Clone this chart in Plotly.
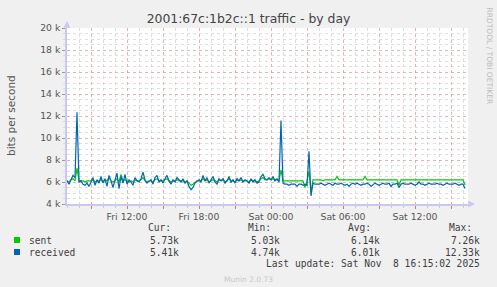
import pandas as pd
import plotly.graph_objects as go

# ---------------- data (k bits per second, 10-minute samples from Fri 07:00) ----------------
start_time = "2025-11-07 07:00"
sample_freq = "10min"

received = [
    6.1, 5.8, 6.2, 6.6, 6.4, 12.33,   # Fri 07
    6.0, 6.1, 5.8, 5.7, 5.9, 5.6,     # 08
    6.0, 6.4, 5.7, 6.2, 5.9, 6.5,     # 09
    5.9, 6.3, 5.6, 6.6, 6.1, 5.5,     # 10
    6.2, 6.8, 5.4, 6.5, 5.9, 6.7,     # 11
    5.8, 6.2, 6.0, 5.7, 6.4, 6.1,     # 12
    6.0, 6.3, 6.9, 6.2, 5.9, 6.1,     # 13
    6.2, 5.8, 6.4, 6.6, 6.0, 6.2,     # 14
    5.9, 6.3, 6.6, 6.1, 5.8, 6.2,     # 15
    6.0, 6.4, 6.2, 6.0, 6.3, 5.9,     # 16
    6.1, 5.6, 5.3, 5.5, 5.9, 6.1,     # 17
    6.2, 6.0, 6.6, 6.1, 6.4, 5.9,     # 18
    6.2, 6.5, 6.0, 5.8, 6.3, 6.1,     # 19
    6.3, 5.9, 6.1, 6.5, 6.0, 6.2,     # 20
    5.9, 6.3, 6.1, 6.4, 6.0, 6.2,     # 21
    6.1, 5.9, 6.3, 6.0, 6.2, 5.9,     # 22
    6.0, 6.5, 6.7, 6.3, 6.2, 6.4,     # 23
    6.2, 6.5, 6.1, 6.3, 6.0, 11.6,    # Sat 00
    5.9, 5.8, 5.8, 5.7, 5.8, 5.8,     # 01
    5.8, 5.6, 5.8, 5.8, 5.7, 5.8,     # 02
    5.7, 8.8, 4.74, 5.9, 5.8, 5.8,    # 03
    5.8, 5.9, 5.8, 5.7, 5.8, 5.9,     # 04
    5.8, 5.7, 5.9, 5.8, 5.8, 5.9,     # 05
    5.8, 5.7, 5.8, 5.6, 5.8, 5.9,     # 06
    5.8, 5.9, 5.8, 5.7, 5.8, 5.8,     # 07
    5.9, 5.8, 5.6, 5.8, 5.9, 5.8,     # 08
    5.7, 5.8, 5.9, 5.8, 5.8, 5.9,     # 09
    5.6, 5.8, 5.8, 5.9, 5.5, 5.8,     # 10
    5.9, 5.8, 5.8, 5.8, 5.9, 5.8,     # 11
    5.7, 5.8, 6.0, 5.8, 5.8, 5.7,     # 12
    5.8, 5.9, 5.8, 5.8, 5.8, 5.9,     # 13
    5.8, 5.8, 5.7, 5.8, 5.9, 5.8,     # 14
    5.8, 5.8, 5.9, 5.8, 5.7, 5.8,     # 15
    5.8, 5.41,                        # 16
]

sent = [
    6.1, 6.0, 6.2, 6.3, 6.1, 7.26,    # Fri 07
    6.1, 6.1, 6.1, 6.0, 6.1, 6.1,     # 08
    6.1, 6.2, 6.0, 6.1, 6.1, 6.2,     # 09
    6.0, 6.2, 6.1, 6.4, 6.1, 6.0,     # 10
    6.1, 6.3, 6.0, 6.7, 6.1, 6.2,     # 11
    6.1, 6.0, 6.1, 6.0, 6.2, 6.1,     # 12
    6.1, 6.2, 6.4, 6.1, 6.0, 6.1,     # 13
    6.1, 6.0, 6.2, 6.3, 6.1, 6.1,     # 14
    6.1, 6.2, 6.3, 6.1, 6.0, 6.1,     # 15
    6.1, 6.2, 6.1, 6.1, 6.1, 6.0,     # 16
    6.1, 5.9, 5.7, 5.8, 6.0, 6.1,     # 17
    6.1, 6.1, 6.3, 6.1, 6.2, 6.0,     # 18
    6.1, 6.2, 6.1, 6.0, 6.2, 6.1,     # 19
    6.2, 6.0, 6.1, 6.3, 6.1, 6.1,     # 20
    6.0, 6.2, 6.1, 6.2, 6.1, 6.1,     # 21
    6.1, 6.0, 6.2, 6.1, 6.1, 6.0,     # 22
    6.1, 6.3, 6.4, 6.2, 6.2, 6.3,     # 23
    6.2, 6.3, 6.2, 6.2, 6.1, 7.1,     # Sat 00
    6.1, 6.1, 6.1, 6.1, 6.1, 6.1,     # 01
    6.1, 6.1, 6.1, 6.1, 6.1, 5.5,     # 02
    6.1, 7.0, 5.03, 6.2, 6.2, 6.2,    # 03
    6.2, 6.2, 6.1, 6.2, 6.2, 6.2,     # 04
    6.2, 6.2, 6.2, 6.5, 6.2, 6.2,     # 05
    6.2, 6.2, 6.2, 6.2, 6.2, 6.2,     # 06
    6.2, 6.2, 6.2, 6.2, 6.2, 6.5,     # 07
    6.2, 6.2, 6.2, 6.2, 6.2, 6.2,     # 08
    6.2, 6.2, 6.2, 6.2, 6.2, 6.2,     # 09
    6.2, 6.2, 6.2, 6.2, 5.7, 6.2,     # 10
    6.2, 6.2, 6.2, 6.2, 6.2, 6.2,     # 11
    6.2, 6.2, 6.25, 6.2, 6.2, 6.2,    # 12
    6.2, 6.2, 6.2, 6.2, 6.2, 6.2,     # 13
    6.2, 6.2, 6.2, 6.2, 6.2, 6.2,     # 14
    6.2, 6.2, 6.2, 6.2, 6.2, 6.2,     # 15
    6.2, 5.73,                        # 16
]

series_names = ["sent", "received"]
series_colors = ["#00CC00", "#0066B3"]

stat_headers = ["Cur:", "Min:", "Avg:", "Max:"]
stats_sent = ["5.73k", "5.03k", "6.14k", "7.26k"]
stats_received = ["5.41k", "4.74k", "6.01k", "12.33k"]

y_tickvals = [4000, 6000, 8000, 10000, 12000, 14000, 16000, 18000, 20000]
y_ticktext = ["4 k", "6 k", "8 k", "10 k", "12 k", "14 k", "16 k", "18 k", "20 k"]

x_tickvals = ["2025-11-07 09:00", "2025-11-07 12:00", "2025-11-07 15:00", "2025-11-07 18:00",
              "2025-11-07 21:00", "2025-11-08 00:00", "2025-11-08 03:00", "2025-11-08 06:00",
              "2025-11-08 09:00", "2025-11-08 12:00", "2025-11-08 15:00"]
x_ticktext = ["", "Fri 12:00", "", "Fri 18:00", "", "Sat 00:00", "", "Sat 06:00", "", "Sat 12:00", ""]
x_range = ["2025-11-07 07:00", "2025-11-08 16:25"]

title_text = "2001:67c:1b2c::1 traffic - by day"
y_title = "bits per second"
last_update = "Last update: Sat Nov\u00a0\u00a08 16:15:02 2025"
footer = "Munin 2.0.73"
side_text = "RRDTOOL / TOBI OETIKER"

# ---------------- figure ----------------
times = pd.date_range(start_time, periods=len(received), freq=sample_freq)

W, H = 497, 287
L, R, T, B = 67, 468, 28, 204


def px(x):
    return (x - L) / (R - L)


def py(y):
    return (B - y) / (B - T)


fig = go.Figure()
for name, vals, col in zip(series_names, [sent, received], series_colors):
    fig.add_trace(go.Scatter(
        x=times, y=[v * 1000 for v in vals], name=name, mode="lines",
        line=dict(color=col, width=1.2), showlegend=False,
    ))

major_grid = "rgba(235,150,150,0.6)"
minor_grid = "rgba(190,190,190,0.5)"
axis_col = "#C8C8F0"
tick_font = dict(family="DejaVu Sans", size=9.3, color="#555555")
mono = dict(family="DejaVu Sans Mono", size=9.6, color="#404040")

fig.update_layout(
    width=W, height=H,
    margin=dict(l=L, r=W - R, t=T, b=H - B, pad=0),
    paper_bgcolor="#F0F0F0", plot_bgcolor="#FFFFFF",
    title=dict(text=title_text, x=0.5, xanchor="center", y=1 - 19 / H, yanchor="middle",
               font=dict(family="DejaVu Sans", size=12.4, color="#444444")),
    xaxis=dict(
        type="date", range=x_range, tickmode="array", tickvals=x_tickvals, ticktext=x_ticktext,
        showgrid=True, gridcolor=major_grid, griddash="dot", gridwidth=1,
        ticks="outside", ticklen=3, tickcolor="rgba(230,100,100,0.9)", tickfont=tick_font,
        showline=True, linecolor=axis_col, linewidth=1.5, zeroline=False,
        minor=dict(dtick=3600000, tick0="2025-11-07 07:00", showgrid=True, gridcolor=minor_grid,
                   griddash="dot", gridwidth=1, ticks="outside", ticklen=2, tickcolor="#CCCCCC"),
    ),
    yaxis=dict(
        range=[4000, 20000], tickmode="array", tickvals=y_tickvals, ticktext=y_ticktext,
        showgrid=True, gridcolor=major_grid, griddash="dot", gridwidth=1,
        ticks="outside", ticklen=3, tickcolor="#999999", tickfont=tick_font,
        showline=True, linecolor=axis_col, linewidth=1.5, zeroline=False,
        minor=dict(dtick=500, showgrid=True, gridcolor=minor_grid, griddash="dot", gridwidth=1,
                   ticks="outside", ticklen=2, tickcolor="#DDDDDD"),
    ),
)

ann = []
# axis arrows
ann.append(dict(xref="paper", yref="paper", x=0, y=py(21), ax=0, ay=8, text="", showarrow=True,
                arrowhead=2, arrowsize=0.9, arrowwidth=1.5, arrowcolor=axis_col))
ann.append(dict(xref="paper", yref="paper", x=px(475), y=0, ax=-8, ay=0, text="", showarrow=True,
                arrowhead=2, arrowsize=0.9, arrowwidth=1.5, arrowcolor=axis_col))
# y axis title
ann.append(dict(xref="paper", yref="paper", x=px(11), y=py(116), text=y_title, textangle=-90,
                showarrow=False, xanchor="center", yanchor="middle",
                font=dict(family="DejaVu Sans", size=10.5, color="#555555")))
# side text
ann.append(dict(xref="paper", yref="paper", x=px(489), y=py(5), text=side_text, textangle=90,
                showarrow=False, xanchor="center", yanchor="top",
                font=dict(family="DejaVu Sans", size=7.5, color="#BBBBBB")))
# stats headers
for h, xl in zip(stat_headers, [146, 246, 346, 447]):
    ann.append(dict(xref="paper", yref="paper", x=px(xl), y=py(227.5), text=h, showarrow=False,
                    xanchor="left", yanchor="middle", font=mono))
col_right = [181, 282, 382, 482]
for name, row, yy in zip(series_names, [stats_sent, stats_received], [240, 252]):
    ann.append(dict(xref="paper", yref="paper", x=px(26.5), y=py(yy), text=name, showarrow=False,
                    xanchor="left", yanchor="middle", font=mono))
    for v, xr in zip(row, col_right):
        ann.append(dict(xref="paper", yref="paper", x=px(xr), y=py(yy), text=v, showarrow=False,
                        xanchor="right", yanchor="middle", font=mono))
ann.append(dict(xref="paper", yref="paper", x=px(482), y=py(263.5), text=last_update, showarrow=False,
                xanchor="right", yanchor="middle", font=mono))
ann.append(dict(xref="paper", yref="paper", x=px(248), y=py(279), text=footer, showarrow=False,
                xanchor="center", yanchor="middle",
                font=dict(family="DejaVu Sans", size=7.5, color="#C8C8C8")))
fig.update_layout(annotations=ann)

# legend colour squares
for col, yy in zip(series_colors, [240, 252]):
    fig.add_shape(type="rect", xref="paper", yref="paper", x0=px(14), x1=px(20),
                  y0=py(yy + 3), y1=py(yy - 3), fillcolor=col, line=dict(width=0))

fig.write_html("out.html")
